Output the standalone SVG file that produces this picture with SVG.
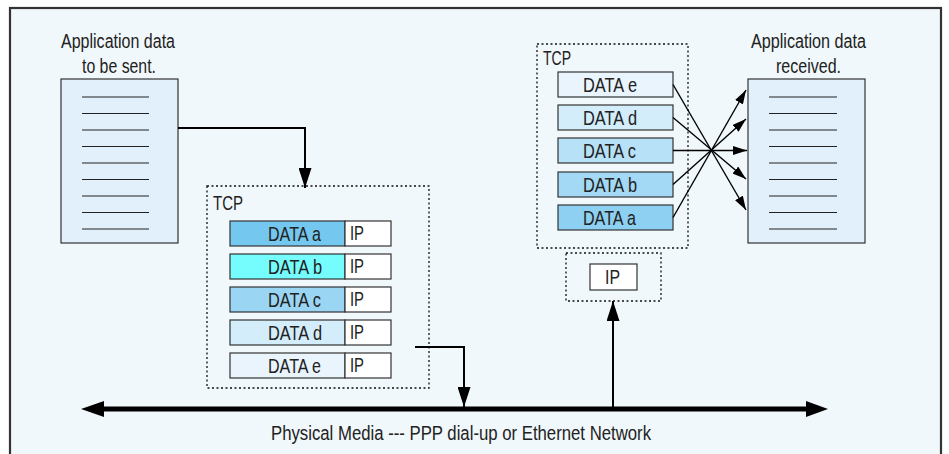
<svg xmlns="http://www.w3.org/2000/svg" width="949" height="454" viewBox="0 0 949 454">
<defs>
<style>
.t{font-family:"Liberation Sans",Arial,sans-serif;font-size:19.5px;fill:#222}
.d{font-family:"Liberation Sans",Arial,sans-serif;font-size:20.5px;fill:#222}
.box{stroke:#333;stroke-width:1.2}
.doc{fill:#e2f0fb;stroke:#333;stroke-width:1.2}
.ln{stroke:#222;stroke-width:1.2}
.dot{fill:none;stroke:#111;stroke-width:1.3;stroke-dasharray:2 2.5}
.con{fill:none;stroke:#000;stroke-width:2}
.thin{fill:none;stroke:#000;stroke-width:1.4}
.ip{fill:#fff}
</style>
<marker id="big" markerUnits="userSpaceOnUse" markerWidth="20" markerHeight="13" refX="20" refY="6.5" orient="auto">
<path d="M0,0 L20,6.5 L0,13 z" fill="#000"/>
</marker>
<marker id="sm" markerUnits="userSpaceOnUse" markerWidth="14" markerHeight="9" refX="14" refY="4.5" orient="auto">
<path d="M0,0 L14,4.5 L0,9 z" fill="#000"/>
</marker>
</defs>
<rect x="10" y="8" width="931" height="452" fill="#f1f8fb" stroke="#333" stroke-width="2.2"/>

<g id="doc-sent">
<text class="t" x="61" y="48" textLength="114" lengthAdjust="spacingAndGlyphs">Application data</text>
<text class="t" x="82" y="73" textLength="74" lengthAdjust="spacingAndGlyphs">to be sent.</text>
<rect class="doc" x="61" y="79" width="117" height="164"/>
<g class="ln">
<line x1="82" y1="97" x2="149" y2="97"/>
<line x1="82" y1="113.5" x2="149" y2="113.5"/>
<line x1="82" y1="130" x2="149" y2="130"/>
<line x1="82" y1="146.5" x2="149" y2="146.5"/>
<line x1="82" y1="163" x2="149" y2="163"/>
<line x1="82" y1="179.5" x2="149" y2="179.5"/>
<line x1="82" y1="196" x2="149" y2="196"/>
<line x1="82" y1="212.5" x2="149" y2="212.5"/>
<line x1="82" y1="229" x2="149" y2="229"/>
</g>
</g>

<g id="tcp-send">
<rect class="dot" x="207" y="186" width="222" height="202"/>
<text class="t" x="213" y="210" textLength="30" lengthAdjust="spacingAndGlyphs">TCP</text>
<g id="send-a"><rect class="box" x="230" y="221" width="115" height="25" fill="#74c7ef"/><rect class="box ip" x="345" y="221" width="46" height="25"/>
<text class="d" x="268" y="241" textLength="53" lengthAdjust="spacingAndGlyphs">DATA a</text><text class="t" x="350" y="240" textLength="14" lengthAdjust="spacingAndGlyphs">IP</text></g>
<g id="send-b"><rect class="box" x="230" y="254" width="115" height="25" fill="#75fdfd"/><rect class="box ip" x="345" y="254" width="46" height="25"/>
<text class="d" x="268" y="274" textLength="54" lengthAdjust="spacingAndGlyphs">DATA b</text><text class="t" x="350" y="273" textLength="14" lengthAdjust="spacingAndGlyphs">IP</text></g>
<g id="send-c"><rect class="box" x="230" y="287" width="115" height="25" fill="#9ad5f4"/><rect class="box ip" x="345" y="287" width="46" height="25"/>
<text class="d" x="268" y="307" textLength="53" lengthAdjust="spacingAndGlyphs">DATA c</text><text class="t" x="350" y="306" textLength="14" lengthAdjust="spacingAndGlyphs">IP</text></g>
<g id="send-d"><rect class="box" x="230" y="320" width="115" height="25" fill="#d3edfb"/><rect class="box ip" x="345" y="320" width="46" height="25"/>
<text class="d" x="268" y="340" textLength="54" lengthAdjust="spacingAndGlyphs">DATA d</text><text class="t" x="350" y="339" textLength="14" lengthAdjust="spacingAndGlyphs">IP</text></g>
<g id="send-e"><rect class="box" x="230" y="353" width="115" height="25" fill="#e9f4fd"/><rect class="box ip" x="345" y="353" width="46" height="25"/>
<text class="d" x="268" y="373" textLength="53" lengthAdjust="spacingAndGlyphs">DATA e</text><text class="t" x="350" y="372" textLength="14" lengthAdjust="spacingAndGlyphs">IP</text></g>
</g>

<g id="tcp-recv">
<rect class="dot" x="537" y="44" width="151" height="204"/>
<text class="t" x="543" y="65" textLength="28" lengthAdjust="spacingAndGlyphs">TCP</text>
<g id="recv-e"><rect class="box" x="558" y="72" width="115" height="25" fill="#e9f4fd"/>
<text class="d" x="583" y="92" textLength="54" lengthAdjust="spacingAndGlyphs">DATA e</text></g>
<g id="recv-d"><rect class="box" x="558" y="105" width="115" height="25" fill="#d3edfb"/>
<text class="d" x="583" y="125" textLength="54" lengthAdjust="spacingAndGlyphs">DATA d</text></g>
<g id="recv-c"><rect class="box" x="558" y="138" width="115" height="25" fill="#b7e1f7"/>
<text class="d" x="583" y="158" textLength="53" lengthAdjust="spacingAndGlyphs">DATA c</text></g>
<g id="recv-b"><rect class="box" x="558" y="172" width="115" height="25" fill="#a3d9f5"/>
<text class="d" x="583" y="192" textLength="54" lengthAdjust="spacingAndGlyphs">DATA b</text></g>
<g id="recv-a"><rect class="box" x="558" y="205" width="115" height="25" fill="#8dd0f2"/>
<text class="d" x="583" y="225" textLength="53" lengthAdjust="spacingAndGlyphs">DATA a</text></g>
</g>

<g id="ip-recv">
<rect class="dot" x="566" y="253" width="95" height="48"/>
<rect class="box ip" x="590" y="264" width="47" height="26"/>
<text class="t" x="605" y="284" textLength="15" lengthAdjust="spacingAndGlyphs">IP</text>
</g>

<g id="doc-recv">
<text class="t" x="751" y="48" textLength="115" lengthAdjust="spacingAndGlyphs">Application data</text>
<text class="t" x="776" y="73" textLength="65" lengthAdjust="spacingAndGlyphs">received.</text>
<rect class="doc" x="748" y="79" width="117" height="164"/>
<g class="ln">
<line x1="769" y1="97" x2="837" y2="97"/>
<line x1="769" y1="113.5" x2="837" y2="113.5"/>
<line x1="769" y1="130" x2="837" y2="130"/>
<line x1="769" y1="146.5" x2="837" y2="146.5"/>
<line x1="769" y1="163" x2="837" y2="163"/>
<line x1="769" y1="179.5" x2="837" y2="179.5"/>
<line x1="769" y1="196" x2="837" y2="196"/>
<line x1="769" y1="212.5" x2="837" y2="212.5"/>
<line x1="769" y1="229" x2="837" y2="229"/>
</g>
</g>

<g id="bus">
<line x1="100" y1="409" x2="810" y2="409" stroke="#000" stroke-width="5"/>
<polygon points="81,409 104,401 104,417" fill="#000"/>
<polygon points="828,409 806,401 806,417" fill="#000"/>
<text class="t" x="271" y="440" textLength="380" lengthAdjust="spacingAndGlyphs">Physical Media ---  PPP dial-up or Ethernet Network</text>
</g>

<g id="connectors">
<polyline class="con" points="178,128 305,128 305,188" marker-end="url(#big)"/>
<polyline class="con" points="415,347 464,347 464,407" marker-end="url(#big)"/>
<line class="con" x1="613" y1="407" x2="613" y2="301" marker-end="url(#big)"/>
<line class="thin" x1="673" y1="84.5" x2="746" y2="210" marker-end="url(#sm)"/>
<line class="thin" x1="673" y1="117.5" x2="746" y2="179" marker-end="url(#sm)"/>
<line class="thin" x1="673" y1="150.5" x2="747" y2="150.5" marker-end="url(#sm)"/>
<line class="thin" x1="673" y1="184.5" x2="746" y2="119" marker-end="url(#sm)"/>
<line class="thin" x1="673" y1="217.5" x2="746" y2="90" marker-end="url(#sm)"/>
</g>
</svg>
